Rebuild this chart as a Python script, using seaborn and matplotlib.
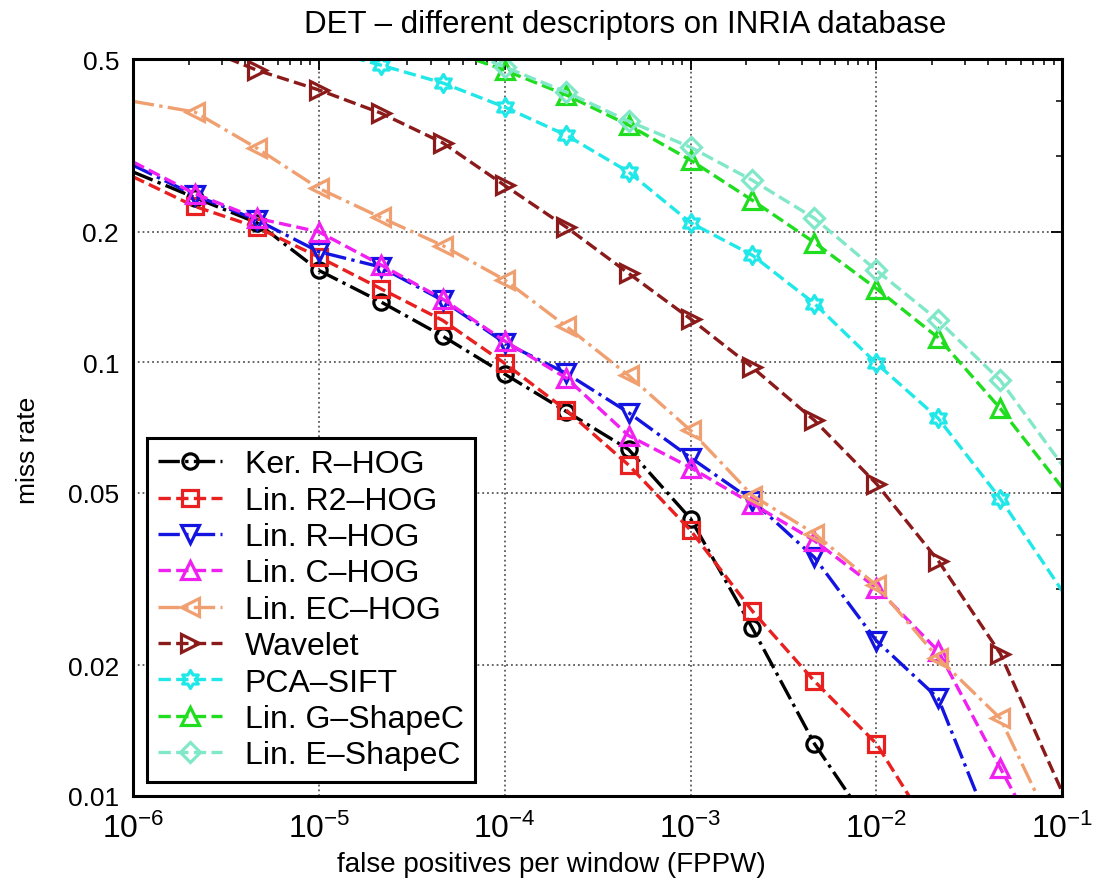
import numpy as np
import pandas as pd
import matplotlib
matplotlib.use('Agg')
import matplotlib.pyplot as plt
from matplotlib.path import Path
from matplotlib.ticker import NullFormatter
import seaborn as sns

# values (FPPW, miss rate)
ker_rhog_x = [1e-6, 2.15e-6, 4.64e-6, 1e-5, 2.15e-5, 4.64e-5, 1e-4, 2.15e-4, 4.64e-4, 1e-3, 2.15e-3, 4.64e-3, 7.3e-3]
ker_rhog_y = [0.275, 0.24, 0.21, 0.163, 0.138, 0.115, 0.094, 0.077, 0.063, 0.0436, 0.0244, 0.0132, 0.0099]

lin_r2hog_x = [1e-6, 2.15e-6, 4.64e-6, 1e-5, 2.15e-5, 4.64e-5, 1e-4, 2.15e-4, 4.64e-4, 1e-3, 2.15e-3, 4.64e-3, 1e-2, 1.52e-2]
lin_r2hog_y = [0.268, 0.229, 0.205, 0.175, 0.148, 0.125, 0.0995, 0.0775, 0.058, 0.041, 0.0267, 0.0184, 0.0132, 0.0099]

lin_rhog_x = [1e-6, 2.15e-6, 4.64e-6, 1e-5, 2.15e-5, 4.64e-5, 1e-4, 2.15e-4, 4.64e-4, 1e-3, 2.15e-3, 4.64e-3, 1e-2, 2.15e-2, 3.53e-2]
lin_rhog_y = [0.285, 0.243, 0.213, 0.18, 0.166, 0.139, 0.111, 0.0943, 0.0766, 0.0603, 0.048, 0.0355, 0.0228, 0.0168, 0.0099]

lin_chog_x = [1e-6, 2.15e-6, 4.64e-6, 1e-5, 2.15e-5, 4.64e-5, 1e-4, 2.15e-4, 4.64e-4, 1e-3, 2.15e-3, 4.64e-3, 1e-2, 2.15e-2, 4.64e-2, 5.66e-2]
lin_chog_y = [0.29, 0.245, 0.215, 0.2, 0.168, 0.14, 0.112, 0.092, 0.0678, 0.0572, 0.0472, 0.0388, 0.0302, 0.0216, 0.0116, 0.0099]

lin_echog_x = [1e-6, 2.15e-6, 4.64e-6, 1e-5, 2.15e-5, 4.64e-5, 1e-4, 2.15e-4, 4.64e-4, 1e-3, 2.15e-3, 4.64e-3, 1e-2, 2.15e-2, 4.64e-2, 7.43e-2]
lin_echog_y = [0.40, 0.378, 0.312, 0.252, 0.216, 0.186, 0.155, 0.121, 0.0933, 0.0697, 0.0493, 0.0403, 0.0306, 0.0208, 0.0151, 0.0099]

wavelet_x = [2.15e-6, 4.64e-6, 1e-5, 2.15e-5, 4.64e-5, 1e-4, 2.15e-4, 4.64e-4, 1e-3, 2.15e-3, 4.64e-3, 1e-2, 2.15e-2, 4.64e-2, 1e-1]
wavelet_y = [0.54, 0.472, 0.425, 0.376, 0.321, 0.256, 0.205, 0.1605, 0.126, 0.0974, 0.0735, 0.0525, 0.0349, 0.0213, 0.0102]

pca_sift_x = [1e-5, 2.15e-5, 4.64e-5, 1e-4, 2.15e-4, 4.64e-4, 1e-3, 2.15e-3, 4.64e-3, 1e-2, 2.15e-2, 4.64e-2, 1e-1]
pca_sift_y = [0.53, 0.485, 0.441, 0.388, 0.334, 0.275, 0.21, 0.1767, 0.1367, 0.0995, 0.0743, 0.0485, 0.0297]

lin_gshape_x = [4.64e-5, 1e-4, 2.15e-4, 4.64e-4, 1e-3, 2.15e-3, 4.64e-3, 1e-2, 2.15e-2, 4.64e-2, 1e-1]
lin_gshape_y = [0.53, 0.472, 0.4136, 0.3526, 0.2927, 0.2365, 0.189, 0.148, 0.114, 0.0783, 0.0514]

lin_eshape_x = [4.64e-5, 1e-4, 2.15e-4, 4.64e-4, 1e-3, 2.15e-3, 4.64e-3, 1e-2, 2.15e-2, 4.64e-2, 1e-1]
lin_eshape_y = [0.55, 0.48, 0.42, 0.36, 0.3135, 0.263, 0.215, 0.163, 0.125, 0.0909, 0.058]

labels = ['Ker. R–HOG', 'Lin. R2–HOG', 'Lin. R–HOG', 'Lin. C–HOG', 'Lin. EC–HOG',
          'Wavelet', 'PCA–SIFT', 'Lin. G–ShapeC', 'Lin. E–ShapeC']
y_ticks = [0.01, 0.02, 0.05, 0.1, 0.2, 0.5]
y_ticklabels = ['0.01', '0.02', '0.05', '0.1', '0.2', '0.5']

sns.set_theme(style='white', rc={'text.color': 'black', 'axes.labelcolor': 'black',
                                 'xtick.color': 'black', 'ytick.color': 'black'})
plt.rcParams['font.family'] = ['Liberation Sans', 'DejaVu Sans']
plt.rcParams['mathtext.fontset'] = 'custom'
plt.rcParams['mathtext.rm'] = 'Liberation Sans'
plt.rcParams['mathtext.it'] = 'Liberation Sans:italic'

hexagram = Path.unit_regular_star(6, 0.577)

# (x, y, color, linestyle, marker, size, marker indices)
series = [
    (ker_rhog_x, ker_rhog_y, 'black', '-.', 'o', 11, list(range(1, 12))),
    (lin_r2hog_x, lin_r2hog_y, '#e82020', '--', 's', 11, list(range(1, 13))),
    (lin_rhog_x, lin_rhog_y, '#1414e0', '-.', 'v', 13, list(range(1, 14))),
    (lin_chog_x, lin_chog_y, '#f020f0', '--', '^', 13, list(range(1, 15))),
    (lin_echog_x, lin_echog_y, '#f0a070', '-.', '<', 13, list(range(1, 15))),
    (wavelet_x, wavelet_y, '#8b1a1a', '--', '>', 13, list(range(0, 14))),
    (pca_sift_x, pca_sift_y, '#20e8e8', '--', hexagram, 13, list(range(0, 12))),
    (lin_gshape_x, lin_gshape_y, '#20dd20', '--', '^', 13, list(range(0, 10))),
    (lin_eshape_x, lin_eshape_y, '#80e8c8', '--', 'D', 10, list(range(0, 10))),
]

fig, ax = plt.subplots(figsize=(11.17, 8.87), dpi=100)
fig.subplots_adjust(left=0.119, right=0.951, bottom=0.1015, top=0.932)

for (xs, ys, c, ls, m, ms, me), lab in zip(series, labels):
    df = pd.DataFrame({'fppw': xs, 'miss': ys})
    sns.lineplot(data=df, x='fppw', y='miss', ax=ax, color=c, linestyle=ls,
                 linewidth=2.4, marker=m, markersize=ms, markevery=me,
                 markerfacecolor='none', markeredgecolor=c, markeredgewidth=2.3,
                 label=lab, sort=False, estimator=None)

ax.set_xscale('log')
ax.set_yscale('log')
ax.set_xlim(1e-6, 1e-1)
ax.set_ylim(0.01, 0.5)
ax.set_yticks(y_ticks)
ax.set_yticklabels(y_ticklabels)
ax.yaxis.set_minor_formatter(NullFormatter())

ax.grid(True, which='major', linestyle=':', color='0.35', linewidth=1.3)
ax.tick_params(which='both', direction='in', top=True, right=True, color='black')
ax.tick_params(which='major', length=8, width=1.3)
ax.tick_params(which='minor', length=4, width=1.1)
ax.tick_params(axis='x', labelsize=23, pad=12)
ax.tick_params(axis='y', labelsize=19, pad=10)
for sp in ax.spines.values():
    sp.set_color('black')
    sp.set_linewidth(2.2)

ax.set_title('DET – different descriptors on INRIA database', fontsize=22.5, x=0.53, pad=20)
ax.set_xlabel('false positives per window (FPPW)', fontsize=20)
ax.xaxis.set_label_coords(0.45, -0.075)
ax.set_ylabel('miss rate', fontsize=19)
ax.yaxis.set_label_coords(-0.1, 0.47)

leg = ax.legend(loc='lower left', fontsize=23, frameon=True, fancybox=False,
                framealpha=1, edgecolor='black', handlelength=2.0,
                handletextpad=0.7, labelspacing=0.2, borderpad=0.35,
                borderaxespad=0.45)
leg.get_frame().set_linewidth(2.2)

plt.savefig('out.png', dpi=100)
